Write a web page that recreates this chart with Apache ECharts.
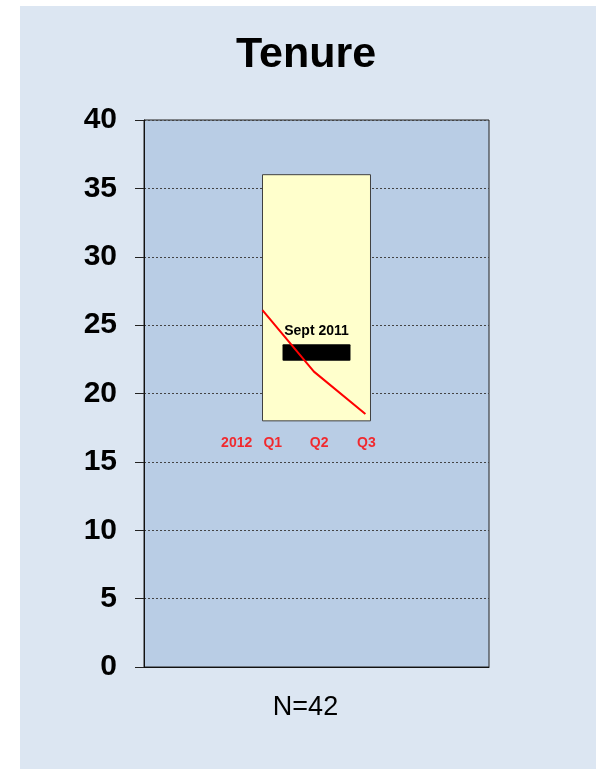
<!DOCTYPE html>
<html>
<head>
<meta charset="utf-8">
<script src="https://cdn.jsdelivr.net/npm/echarts@6/dist/echarts.min.js"></script>
<style>
  html, body { margin: 0; padding: 0; background: #ffffff; }
  #chart { width: 596px; height: 769px; }
</style>
</head>
<body>
<div id="chart"></div>
<script>
// ---- data ----
const chartTitle = 'Tenure';
const categories = ['N=42'];
const boxRange = [18, 36];            // low / high of the yellow box
const medianBand = [22.4, 23.6];      // black bar
const medianLabel = 'Sept 2011';
const quarterPos = [1, 2, 3];
const quarterValues = [26.1, 21.6, 18.5];   // red 2012 line
const periodLabels = ['2012', 'Q1', 'Q2', 'Q3'];
const yTicks = [0, 5, 10, 15, 20, 25, 30, 35, 40];

// ---- layout (positions only) ----
const periodLabelX = [0.5, 1.2, 2.1, 3.02];
const periodLabelY = 16.35;

const FONT = '"Liberation Sans", Arial, sans-serif';

const chart = echarts.init(document.getElementById('chart'), null, { renderer: 'canvas' });

const option = {
  animation: false,
  backgroundColor: '#ffffff',
  graphic: [
    { type: 'rect', z: -10, silent: true, shape: { x: 20, y: 6, width: 576, height: 763 }, style: { fill: '#dce6f2' } },
    { type: 'text', z: 10, left: 236, top: 34, style: { text: chartTitle, font: 'bold 43px ' + FONT, fill: '#000' } }
  ],
  grid: {
    left: 144, right: 107, top: 120, bottom: 102,
    show: true, backgroundColor: '#b9cde5', borderColor: '#222', borderWidth: 1
  },
  xAxis: [
    {
      type: 'category', data: categories, position: 'bottom',
      axisLine: { show: true, lineStyle: { color: '#111', width: 1 } },
      axisTick: { show: false },
      axisLabel: { fontFamily: FONT, fontSize: 27, color: '#000', margin: 27, padding: [0, 22, 0, 0] },
      splitLine: { show: false }
    },
    {
      type: 'value', min: -1.3, max: 5.4, show: false,
      splitLine: { show: false }
    }
  ],
  yAxis: {
    type: 'value', min: yTicks[0], max: yTicks[yTicks.length - 1], interval: 5,
    position: 'left',
    axisLine: { show: true, onZero: false, lineStyle: { color: '#111' } },
    axisTick: { show: true, inside: false, length: 9, lineStyle: { color: '#222' } },
    axisLabel: { fontFamily: FONT, fontSize: 30, fontWeight: 'bold', color: '#000', margin: 27 },
    splitLine: { show: true, lineStyle: { color: '#444', type: [2, 2], width: 1 } }
  },
  series: [
    {
      type: 'custom', xAxisIndex: 0, yAxisIndex: 0, z: 3,
      data: [[0, boxRange[0], boxRange[1], medianBand[0], medianBand[1]]],
      renderItem: function (params, api) {
        const cx = api.coord([api.value(0), 0])[0];
        const band = api.size([1, 0])[0];
        const yLow = api.coord([0, api.value(1)])[1];
        const yHigh = api.coord([0, api.value(2)])[1];
        const mLow = api.coord([0, api.value(3)])[1];
        const mHigh = api.coord([0, api.value(4)])[1];
        const bw = band * 0.313;
        const mw = band * 0.197;
        return {
          type: 'group',
          children: [
            { type: 'rect', shape: { x: cx - bw / 2, y: yHigh, width: bw, height: yLow - yHigh },
              style: { fill: '#ffffcc', stroke: '#404040', lineWidth: 1 } },
            { type: 'rect', shape: { x: cx - mw / 2, y: mHigh, width: mw, height: mLow - mHigh, r: 1 },
              style: { fill: '#000000' } },
            { type: 'text', x: cx, y: mHigh - 13,
              style: { text: medianLabel, font: 'bold 14px ' + FONT, fill: '#000', align: 'center', verticalAlign: 'middle' } }
          ]
        };
      }
    },
    {
      type: 'line', xAxisIndex: 1, yAxisIndex: 0, z: 5,
      data: quarterPos.map((q, i) => [q, quarterValues[i]]),
      symbol: 'none',
      lineStyle: { color: '#ff0000', width: 2 }
    },
    {
      type: 'scatter', xAxisIndex: 1, yAxisIndex: 0, z: 6,
      symbolSize: 0,
      data: periodLabels.map((t, i) => ({ value: [periodLabelX[i], periodLabelY], name: t })),
      label: {
        show: true, position: 'inside', formatter: p => p.name,
        fontFamily: FONT, fontSize: 14, fontWeight: 'bold', color: '#ff0000'
      }
    }
  ]
};
chart.setOption(option);
</script>
</body>
</html>
